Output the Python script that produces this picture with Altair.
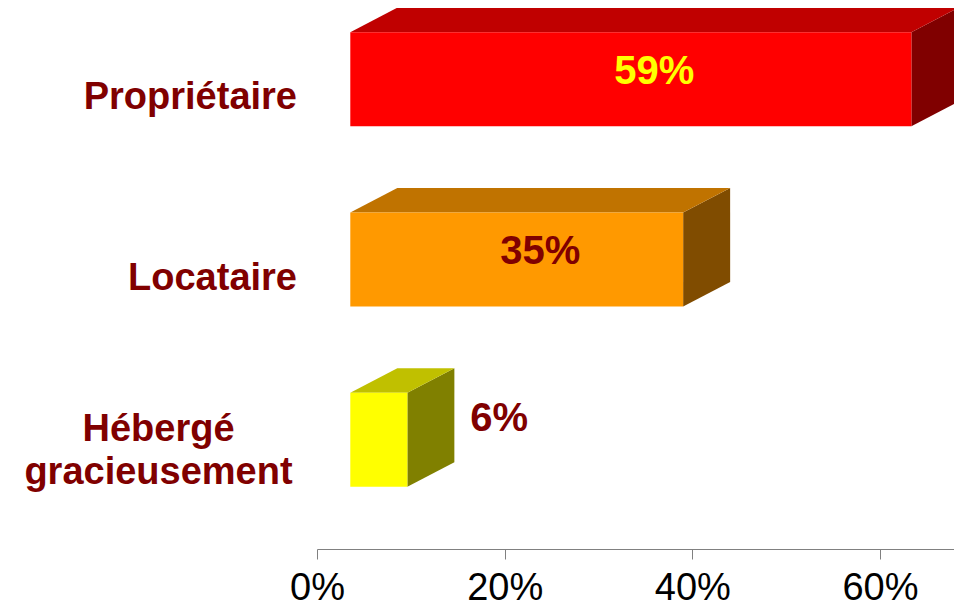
import altair as alt
import pandas as pd

# ---------------- data ----------------
categories = ["Propriétaire", "Locataire", "Hébergé\ngracieusement"]
values = [59, 35, 6]
value_labels = ["59%", "35%", "6%"]
tick_values = [0, 20, 40, 60]

# ---------------- styles ----------------
front_colors = ["#FF0000", "#FF9900", "#FFFF00"]
top_colors = ["#C00000", "#C07300", "#C0C000"]
side_colors = ["#800000", "#804C00", "#808000"]
value_label_colors = ["#FFFF00", "#800000", "#800000"]
CAT_COLOR = "#800000"
FONT = "Liberation Sans, Arial, sans-serif"

PLOT_W, PLOT_H = 637, 541
N = len(categories)
PX_Y = PLOT_H / N          # pixels per category unit
BAR_PX = 9.51              # pixels per % on the front plane of the bars
BAR_SHIFT = 33.3           # front plane shift (px) from the axis origin
AXIS_PX = 9.383            # pixels per % on the axis
DEPTH_X = 47 / BAR_PX
DEPTH_Y = 24.5 / PX_Y
FACE_HALF = 47 / PX_Y
FACE_LIFT = 19 / PX_Y

bar_domain = [-BAR_SHIFT / BAR_PX, (PLOT_W - BAR_SHIFT) / BAR_PX]
axis_domain = [0, PLOT_W / AXIS_PX]
y_domain = [0, N]

# ---------------- tables ----------------
front_rows, top_rows, side_rows, lab_rows, cat_rows = [], [], [], [], []
for i, (c, v) in enumerate(zip(categories, values)):
    yc = i + 0.5
    fc = yc - FACE_LIFT
    y_top, y_bot = fc - FACE_HALF, fc + FACE_HALF
    front_rows.append({"cat": c, "x0": 0, "x1": v, "y0": y_top, "y1": y_bot, "color": front_colors[i]})
    top_rows.append({"cat": c, "y": y_top, "xl": 0, "xr": v, "color": top_colors[i]})
    top_rows.append({"cat": c, "y": y_top - DEPTH_Y, "xl": DEPTH_X, "xr": v + DEPTH_X, "color": top_colors[i]})
    side_rows.append({"cat": c, "x": v, "ya": y_bot, "yb": y_top, "color": side_colors[i]})
    side_rows.append({"cat": c, "x": v + DEPTH_X, "ya": y_bot - DEPTH_Y, "yb": y_top - DEPTH_Y, "color": side_colors[i]})
    lab_rows.append({"cat": c, "x_in": (v + DEPTH_X) / 2, "x_out": v + DEPTH_X + 16 / BAR_PX,
                     "yc": fc, "label": value_labels[i], "color": value_label_colors[i],
                     "inside": bool(v >= 10)})
    cat_rows.append({"cat": c, "yc": yc, "multi": "\n" in c})

df_front = pd.DataFrame(front_rows)
df_top = pd.DataFrame(top_rows)
df_side = pd.DataFrame(side_rows)
df_lab = pd.DataFrame(lab_rows)
df_cat = pd.DataFrame(cat_rows)
df_ticks = pd.DataFrame({"t": tick_values})


def xs(field, **kw):
    return alt.X(field, type="quantitative",
                 scale=alt.Scale(domain=bar_domain, nice=False, zero=False), axis=None, **kw)


def ys(field, **kw):
    return alt.Y(field, type="quantitative",
                 scale=alt.Scale(domain=y_domain, reverse=True, nice=False, zero=False), axis=None, **kw)


fill = alt.Fill("color:N", scale=None)

front = alt.Chart(df_front).mark_rect().encode(
    x=xs("x0"), x2=alt.X2("x1"), y=ys("y0"), y2=alt.Y2("y1"), fill=fill)

top = alt.Chart(df_top).mark_area(orient="horizontal").encode(
    y=ys("y"), x=xs("xl", stack=None), x2=alt.X2("xr"), detail="cat:N", fill=fill)

side = alt.Chart(df_side).mark_area(orient="vertical").encode(
    x=xs("x"), y=ys("ya", stack=None), y2=alt.Y2("yb"), detail="cat:N", fill=fill)

inside = alt.Chart(df_lab).transform_filter("datum.inside").mark_text(
    font=FONT, fontSize=40, fontWeight="bold", align="center", baseline="middle", dy=-7.5
).encode(x=xs("x_in"), y=ys("yc"), text="label:N", color=alt.Color("color:N", scale=None))

outside = alt.Chart(df_lab).transform_filter("!datum.inside").mark_text(
    font=FONT, fontSize=40, fontWeight="bold", align="left", baseline="middle", dy=-21
).encode(x=xs("x_out"), y=ys("yc"), text="label:N", color=alt.Color("color:N", scale=None))

cat_single = alt.Chart(df_cat).transform_filter("!datum.multi").mark_text(
    font=FONT, fontSize=38, fontWeight="bold", align="right", baseline="middle", color=CAT_COLOR
).encode(x=alt.value(-20), y=ys("yc"), text="cat:N")

cat_multi = alt.Chart(df_cat).transform_filter("datum.multi").mark_text(
    font=FONT, fontSize=38, fontWeight="bold", align="center", baseline="middle", color=CAT_COLOR,
    lineBreak="\n", lineHeight=43.3, dy=-29
).encode(x=alt.value(-158.5), y=ys("yc"), text="cat:N")

bars = alt.layer(side, top, front, inside, outside, cat_single, cat_multi)

axis_layer = alt.Chart(df_ticks).mark_point(opacity=0).encode(
    x=alt.X("t:Q", scale=alt.Scale(domain=axis_domain, nice=False, zero=True),
            axis=alt.Axis(values=tick_values, labelExpr="datum.value + '%'", tickSize=10,
                          labelPadding=10, labelFontSize=38, labelFont=FONT, labelColor="black",
                          domainColor="#808080", tickColor="#808080", domainWidth=1, tickWidth=1,
                          grid=False, title=None, labelFlush=False, labelOverlap=False))
)

chart = alt.layer(bars, axis_layer).resolve_scale(x="independent").properties(
    width=PLOT_W, height=PLOT_H,
    padding={"left": 309, "top": 0, "right": 0, "bottom": 59},
    autosize=alt.AutoSizeParams(type="none"),
).configure_view(stroke=None)

chart.save("out.html", embed_options={"renderer": "svg", "actions": False})
